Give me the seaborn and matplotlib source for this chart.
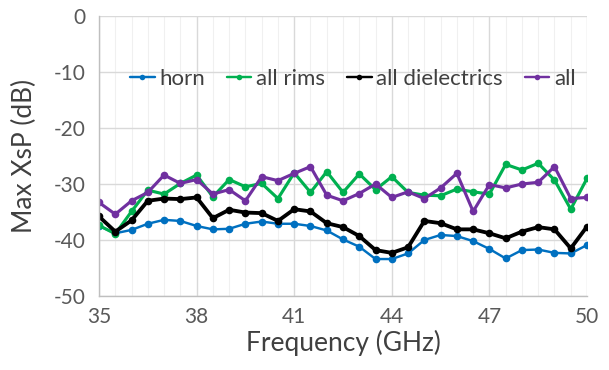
import numpy as np
import pandas as pd
import matplotlib
matplotlib.use("Agg")
import matplotlib.pyplot as plt
import seaborn as sns
from matplotlib.ticker import MultipleLocator

# frequency points (GHz), every 0.5 from 35 to 50
freq = [35, 35.5, 36, 36.5, 37, 37.5, 38, 38.5, 39, 39.5, 40,
        40.5, 41, 41.5, 42, 42.5, 43, 43.5, 44, 44.5, 45,
        45.5, 46, 46.5, 47, 47.5, 48, 48.5, 49, 49.5, 50]

horn = [-37.5, -38.8, -38.2, -37.1, -36.4, -36.6, -37.5, -38.1, -38.0, -37.1, -36.7,
        -37.1, -37.1, -37.5, -38.3, -39.9, -41.2, -43.4, -43.4, -42.4, -40.0,
        -39.1, -39.3, -40.2, -41.6, -43.3, -41.8, -41.7, -42.3, -42.4, -40.9]

all_rims = [-37.4, -38.9, -34.9, -31.1, -31.8, -29.9, -28.4, -32.3, -29.2, -30.5, -29.9,
            -32.6, -28.0, -31.5, -27.8, -31.5, -28.2, -31.0, -28.7, -31.5, -32.0,
            -32.1, -30.9, -31.4, -31.8, -26.5, -27.5, -26.3, -29.3, -34.5, -29.0]

all_diel = [-35.8, -38.5, -36.5, -33.0, -32.6, -32.7, -32.4, -36.1, -34.6, -35.1, -35.2,
            -36.6, -34.5, -34.9, -37.0, -37.7, -39.3, -41.8, -42.3, -41.3, -36.6,
            -37.0, -38.1, -38.1, -38.8, -39.7, -38.5, -37.7, -38.1, -41.5, -37.6]

all_ = [-33.3, -35.4, -33.0, -31.5, -28.4, -29.9, -29.2, -31.8, -31.0, -33.0, -28.7,
        -29.4, -28.1, -26.9, -32.0, -33.0, -31.7, -30.0, -32.4, -31.4, -32.6,
        -30.7, -28.1, -34.9, -30.1, -30.7, -30.0, -29.7, -26.9, -32.6, -32.4]

xticks = [35, 38, 41, 44, 47, 50]
yticks = [-50, -40, -30, -20, -10, 0]

series = {
    "horn": (horn, "#0070C0", 1.75),
    "all rims": (all_rims, "#00B050", 2.25),
    "all dielectrics": (all_diel, "#000000", 2.75),
    "all": (all_, "#7030A0", 2.25),
}

sns.set_style("white")
plt.rcParams["font.family"] = ["Lato", "DejaVu Sans"]
plt.rcParams["axes.unicode_minus"] = False

fig, ax = plt.subplots(figsize=(6.09, 3.70), dpi=100)
fig.subplots_adjust(left=0.1626, right=0.9639, top=0.9568, bottom=0.2)

for name, (vals, col, lw) in series.items():
    sns.lineplot(x=freq, y=vals, ax=ax, color=col, linewidth=lw, marker="o",
                 markersize=5.5, markeredgewidth=0, label=name)

ax.set_xlim(35, 50)
ax.set_ylim(-50, 0)
ax.set_xticks(xticks)
ax.set_yticks(yticks)
ax.xaxis.set_minor_locator(MultipleLocator(0.5))
ax.grid(which="major", color="#d9d9d9", linewidth=1)
ax.grid(which="minor", axis="x", color="#f0f0f0", linewidth=0.8)
ax.set_axisbelow(True)

for s in ["top", "right"]:
    ax.spines[s].set_visible(False)
for s in ["left", "bottom"]:
    ax.spines[s].set_color("#bfbfbf")
    ax.spines[s].set_linewidth(1)

ax.tick_params(which="both", length=0, labelsize=15, labelcolor="#595959")
ax.tick_params(axis="y", pad=10)
ax.tick_params(axis="x", pad=8)
ax.set_xlabel("Frequency (GHz)", fontsize=19, color="#404040", labelpad=2)
ax.set_ylabel("Max XsP (dB)", fontsize=19, color="#404040", labelpad=12)

leg = ax.legend(loc="center", bbox_to_anchor=(0.52, 0.775), ncol=4, frameon=False,
                fontsize=16, handlelength=1.1, handletextpad=0.2, columnspacing=1.0,
                borderaxespad=0)
for h in leg.legend_handles:
    h.set_markersize(4)
    h.set_linewidth(1.75)
for t in leg.get_texts():
    t.set_color("#404040")

fig.savefig("out.png", dpi=100)
